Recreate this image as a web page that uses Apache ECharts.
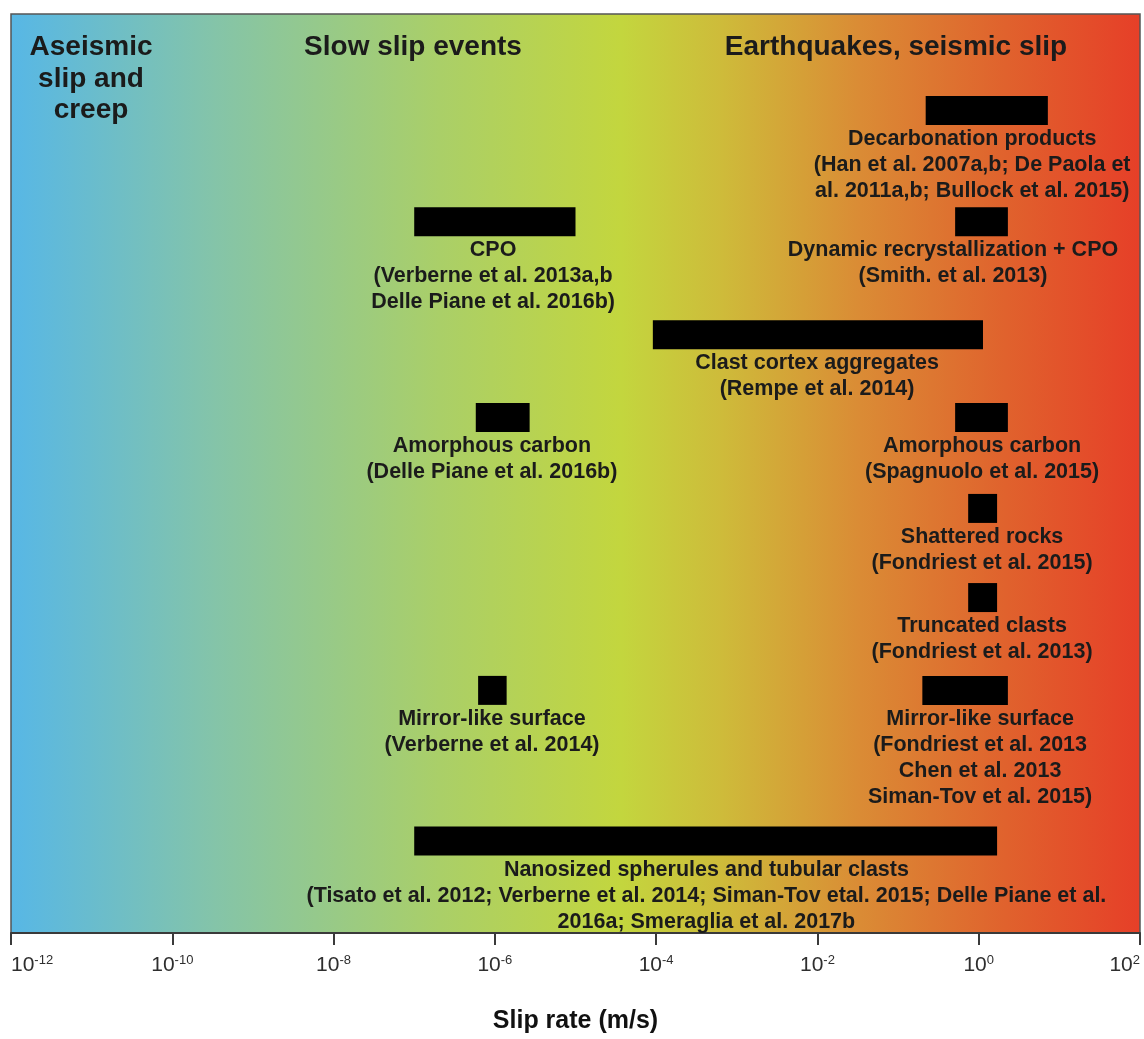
<!DOCTYPE html>
<html>
<head>
<meta charset="utf-8">
<script src="https://cdn.jsdelivr.net/npm/echarts@6/dist/echarts.min.js"></script>
<style>
  html, body { margin: 0; padding: 0; background: #ffffff; }
  #chart { width: 1144px; height: 1039px; }
</style>
</head>
<body>
<div id="chart"></div>
<script>
// ---- data (slip rates in m/s) ----
const labels = [
  "Decarbonation products\n(Han et al. 2007a,b; De Paola et\nal. 2011a,b; Bullock et al. 2015)",
  "CPO\n(Verberne et al. 2013a,b\nDelle Piane et al. 2016b)",
  "Dynamic recrystallization + CPO\n(Smith. et al. 2013)",
  "Clast cortex aggregates\n(Rempe et al. 2014)",
  "Amorphous carbon\n(Delle Piane et al. 2016b)",
  "Amorphous carbon\n(Spagnuolo et al. 2015)",
  "Shattered rocks\n(Fondriest et al. 2015)",
  "Truncated clasts\n(Fondriest et al. 2013)",
  "Mirror-like surface\n(Verberne et al. 2014)",
  "Mirror-like surface\n(Fondriest et al. 2013\nChen et al. 2013\nSiman-Tov et al. 2015)",
  "Nanosized spherules and tubular clasts\n(Tisato et al. 2012; Verberne et al. 2014; Siman-Tov etal. 2015; Delle Piane et al.\n2016a; Smeraglia et al. 2017b"
];
const rateLow  = [0.22, 1e-7, 0.51, 9.1e-5, 5.8e-7, 0.51, 0.74, 0.74, 6.2e-7, 0.2, 1e-7];
const rateHigh = [7.2, 1e-5, 2.3, 1.13, 2.7e-6, 2.3, 1.69, 1.69, 1.4e-6, 2.3, 1.69];
const rowPos   = [1.05, 2.26, 2.26, 3.49, 4.39, 4.39, 5.38, 6.35, 7.36, 7.36, 9.0];
const labelAt  = [0.83, 9.5e-7, 0.48, 0.0099, 9.2e-7, 1.1, 1.1, 1.1, 9.2e-7, 1.04, 4.2e-4];
const tickValues = [1e-12, 1e-10, 1e-8, 1e-6, 1e-4, 1e-2, 1, 1e2];
const regimes = ["Aseismic\nslip and\ncreep", "Slow slip events", "Earthquakes, seismic slip"];

const chart = echarts.init(document.getElementById('chart'), null, { renderer: 'canvas' });

const seriesData = labels.map((_, i) => [rateLow[i], rateHigh[i], rowPos[i], labelAt[i]]);

function renderItem(params, api) {
  const lo = api.value(0), hi = api.value(1), row = api.value(2), lx = api.value(3);
  const p0 = api.coord([lo, row]);
  const p1 = api.coord([hi, row]);
  const pl = api.coord([lx, row]);
  const h = 29;
  return {
    type: 'group',
    children: [
      { type: 'rect', shape: { x: p0[0], y: p0[1] - h / 2, width: p1[0] - p0[0], height: h },
        style: { fill: '#000000' } },
      { type: 'text',
        style: {
          text: labels[params.dataIndex], x: pl[0], y: p0[1] + h / 2 + 1,
          align: 'center', verticalAlign: 'top',
          fontFamily: '"Liberation Sans", Arial, sans-serif', fontWeight: 'bold', fontSize: 21.5,
          lineHeight: 26, fill: '#1b1b1b'
        } }
    ]
  };
}

const bg = new echarts.graphic.LinearGradient(0, 0, 1, 0, [
  { offset: 0.00, color: '#57b7e6' },
  { offset: 0.18, color: '#84c4a9' },
  { offset: 0.38, color: '#aacf68' },
  { offset: 0.54, color: '#c3d63e' },
  { offset: 0.63, color: '#cebb3a' },
  { offset: 0.75, color: '#da8c35' },
  { offset: 0.88, color: '#e0622d' },
  { offset: 1.00, color: '#e63f28' }
]);

const headerFont = { fontFamily: '"Liberation Sans", Arial, sans-serif', fontWeight: 'bold', fontSize: 28, lineHeight: 31.5, fill: '#1b1b1b', align: 'center', verticalAlign: 'top' };

const option = {
  animation: false,
  backgroundColor: '#ffffff',
  grid: {
    left: 11, right: 4, top: 14, bottom: 101,
    show: true, backgroundColor: bg, borderColor: '#555555', borderWidth: 1.5
  },
  xAxis: {
    type: 'log', logBase: 100, min: tickValues[0], max: tickValues[tickValues.length - 1],
    position: 'bottom',
    name: 'Slip rate (m/s)', nameLocation: 'middle', nameGap: 76,
    nameTextStyle: { fontFamily: '"Liberation Sans", Arial, sans-serif', fontWeight: 'bold', fontSize: 25, color: '#111111' },
    axisLine: { show: true, onZero: false, lineStyle: { color: '#3a3a3a', width: 2 } },
    axisTick: { show: true, length: 12, lineStyle: { color: '#3a3a3a', width: 2 } },
    splitLine: { show: false },
    minorTick: { show: false },
    axisLabel: {
      margin: 21,
      alignMinLabel: 'left', alignMaxLabel: 'right',
      formatter: function (v) {
        const e = Math.round(Math.log10(v));
        return '{b|10}{s|' + e + '}';
      },
      rich: {
        b: { fontFamily: '"Liberation Sans", Arial, sans-serif', fontSize: 21, color: '#2e2e2e', lineHeight: 22, verticalAlign: 'bottom' },
        s: { fontFamily: '"Liberation Sans", Arial, sans-serif', fontSize: 13, color: '#2e2e2e', lineHeight: 22, verticalAlign: 'top', padding: [0, 0, 10, 0] }
      }
    }
  },
  yAxis: { type: 'value', min: 0, max: 10, inverse: true, show: false, splitLine: { show: false } },
  graphic: [
    { type: 'text', x: 91, y: 32, z: 10, style: Object.assign({ text: regimes[0] }, headerFont) },
    { type: 'text', x: 413, y: 32, z: 10, style: Object.assign({ text: regimes[1] }, headerFont) },
    { type: 'text', x: 896, y: 32, z: 10, style: Object.assign({ text: regimes[2] }, headerFont) }
  ],
  series: [{
    type: 'custom',
    renderItem: renderItem,
    data: seriesData,
    encode: { x: [0, 1, 3], y: 2 },
    clip: false,
    z: 5
  }]
};

chart.setOption(option);
</script>
</body>
</html>
